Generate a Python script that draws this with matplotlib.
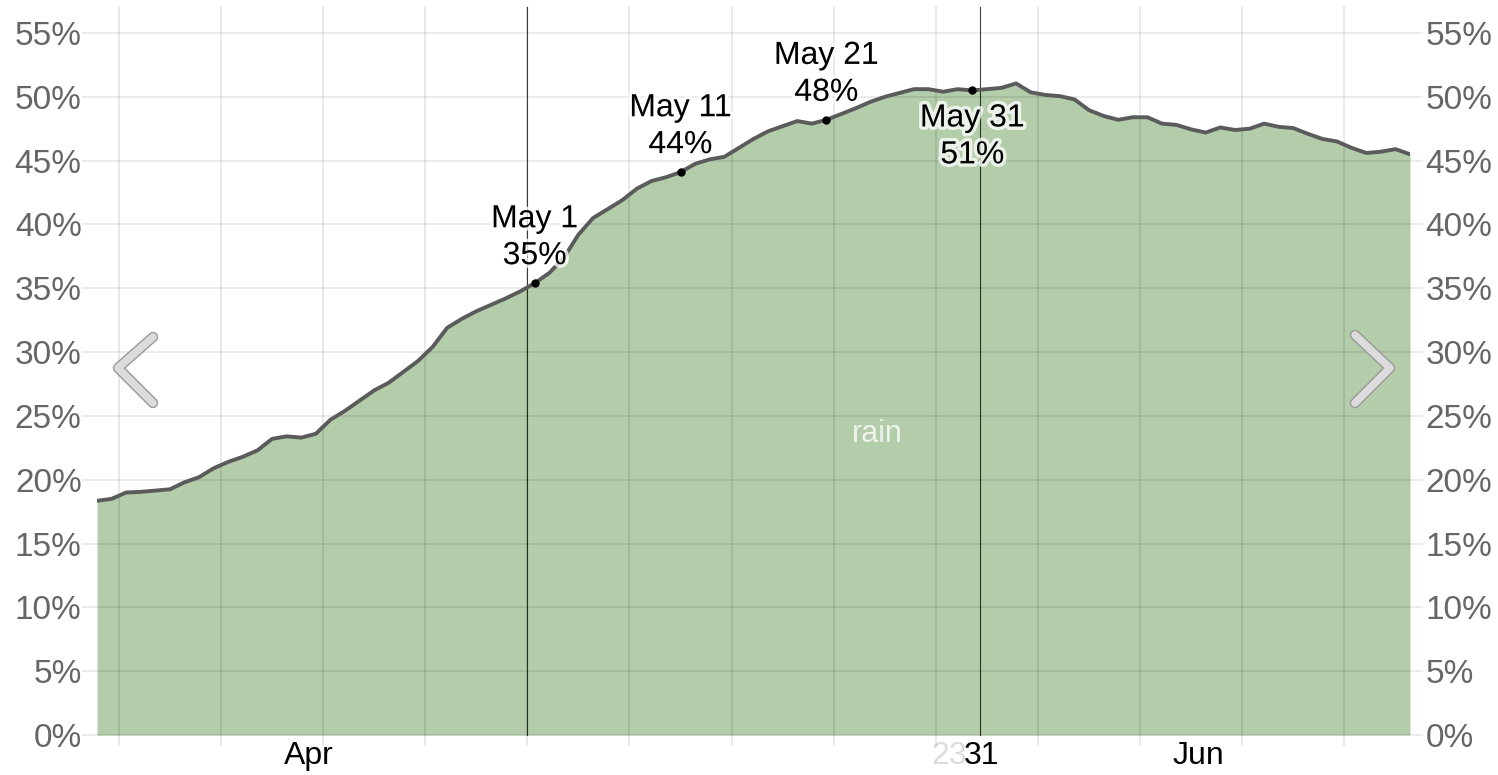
import matplotlib
matplotlib.use("Agg")
import matplotlib.pyplot as plt
import matplotlib.patheffects as pe
import numpy as np

plt.rcParams['font.family'] = ['Liberation Sans', 'DejaVu Sans']

# daily chance of rain, Apr 1 (day 0) .. Jun 30 (day 90), in percent
rain_pct = [
    18.35, 18.5, 19.0, 19.05, 19.15, 19.25, 19.8, 20.2, 20.9, 21.4,
    21.8, 22.3, 23.2, 23.4, 23.3, 23.6, 24.7, 25.4, 26.2, 27.0,
    27.6, 28.45, 29.3, 30.4, 31.9, 32.6, 33.2, 33.7, 34.2, 34.75,
    35.4, 36.2, 37.4, 39.2, 40.5, 41.2, 41.9, 42.8, 43.4, 43.7,
    44.1, 44.75, 45.1, 45.3, 46.0, 46.7, 47.3, 47.7, 48.1, 47.9,
    48.2, 48.65, 49.1, 49.6, 50.0, 50.3, 50.6, 50.6, 50.4, 50.6,
    50.5, 50.6, 50.7, 51.05, 50.35, 50.15, 50.05, 49.8, 48.95, 48.5,
    48.2, 48.4, 48.4, 47.9, 47.8, 47.45, 47.2, 47.6, 47.4, 47.5,
    47.9, 47.65, 47.55, 47.1, 46.7, 46.5, 46.0, 45.6, 45.7, 45.9,
    45.5,
]
days = np.arange(len(rain_pct))

# highlighted days
mark_days = [30, 40, 50, 60]
mark_names = ["May 1", "May 11", "May 21", "May 31"]
mark_labels = ["35%", "44%", "48%", "51%"]
mark_below = [False, False, False, True]

y_ticks = list(range(0, 60, 5))
y_tick_labels = [f"{v}%" for v in y_ticks]
week_lines = [1.5 + 7 * k for k in range(13)]
month_lines = [29.5, 60.5]
x_ticks = [14.5, 58.4, 60.6, 75.5]
x_tick_labels = ["Apr", "23", "31", "Jun"]

W, H = 1498, 775
fig = plt.figure(figsize=(W / 100, H / 100), dpi=100)
ax = fig.add_axes([97 / W, 40 / H, 1313 / W, 702 / H])

ax.fill_between(days, 0, rain_pct, color='#b3cca9', lw=0, zorder=1)
ax.plot(days, rain_pct, color='#5b5b5b', lw=2.8, zorder=4, solid_joinstyle='round')

for v in y_ticks:
    ax.axhline(v, xmin=-0.011, xmax=1.009, color='black', alpha=0.09, lw=1.2,
               clip_on=False, zorder=2)
for d in week_lines:
    ax.axvline(d, ymin=-0.014, ymax=1.037, color='black', alpha=0.1, lw=1.2,
               clip_on=False, zorder=2)
for d in month_lines:
    ax.axvline(d, ymin=0, ymax=1.037, color='black', alpha=0.75, lw=0.8,
               clip_on=False, zorder=3)

glow = [pe.withStroke(linewidth=5, foreground='white', alpha=0.75)]
for d, name, lab, below in zip(mark_days, mark_names, mark_labels, mark_below):
    y = rain_pct[d]
    ax.plot(d, y, 'o', color='black', ms=5, zorder=6)
    if below:
        ax.annotate(f"{name}\n{lab}", (d, y), xytext=(0, -13), textcoords='offset pixels',
                    ha='center', va='top', fontsize=23, linespacing=1.3,
                    path_effects=glow, zorder=7)
    else:
        ax.annotate(f"{name}\n{lab}", (d, y), xytext=(0, 12), textcoords='offset pixels',
                    ha='center', va='bottom', fontsize=23, linespacing=1.3,
                    path_effects=glow, zorder=7)

ax.text(53.5, 23.6, "rain", color='#eef3ec', fontsize=22, ha='center', va='center', zorder=5)

ax.set_xlim(0, 90)
ax.set_ylim(0, 55)
ax.set_yticks(y_ticks)
ax.set_yticklabels(y_tick_labels)
ax.set_xticks(x_ticks)
ax.set_xticklabels(x_tick_labels)
ax.tick_params(axis='y', length=0, pad=11, labelsize=24, labelcolor='#666666',
               labelleft=True, labelright=True)
ax.tick_params(axis='x', length=0, pad=4, labelsize=23, labelcolor='black')
ax.get_xticklabels()[1].set_color('#dcdcdc')
for s in ax.spines.values():
    s.set_visible(False)

# navigation chevrons
for pts in ([(153, 337), (118, 368), (153, 403)], [(1355, 335), (1390, 368), (1355, 403)]):
    xs = [p[0] / W for p in pts]
    ys = [1 - p[1] / H for p in pts]
    fig.add_artist(plt.Line2D(xs, ys, transform=fig.transFigure, color='#9a9a9a',
                              lw=7.5, solid_capstyle='round', solid_joinstyle='round', zorder=10))
    fig.add_artist(plt.Line2D(xs, ys, transform=fig.transFigure, color='#dcdcdc',
                              lw=5.5, solid_capstyle='round', solid_joinstyle='round', zorder=11))

fig.savefig("out.png", dpi=100)
